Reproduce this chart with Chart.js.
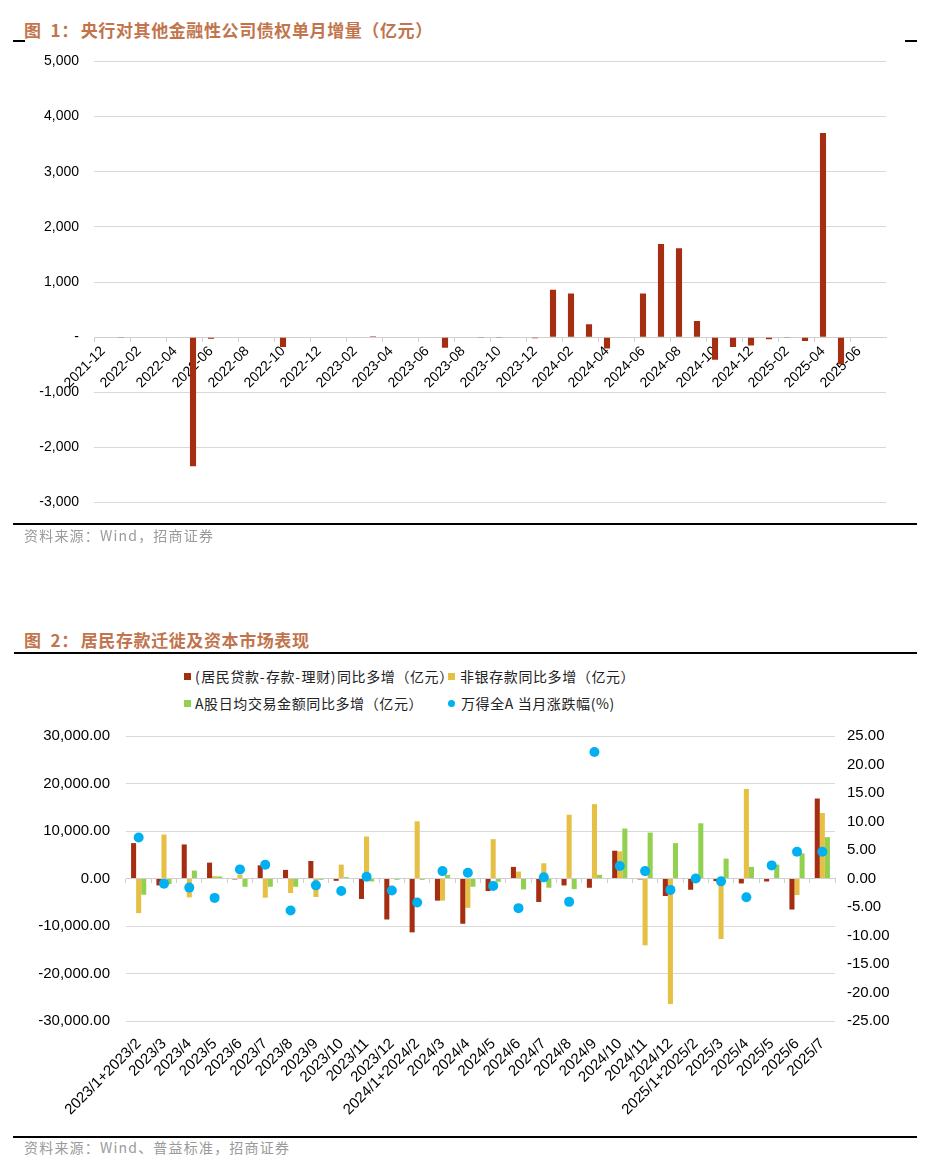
<!DOCTYPE html>
<html><head><meta charset="utf-8">
<script src="https://cdn.jsdelivr.net/npm/chart.js@4.4.1/dist/chart.umd.min.js"></script>
<style>
html,body{margin:0;padding:0;background:#fff;}
body{width:927px;height:1168px;position:relative;overflow:hidden;font-family:"Noto Sans CJK SC",sans-serif;}
.title{position:absolute;left:24px;font-size:17px;font-weight:bold;color:#c2744d;letter-spacing:0.6px;line-height:20px;white-space:nowrap;}
.rule{position:absolute;background:#000;height:1.5px;}
.src{position:absolute;left:24px;font-size:14px;color:#9a9a9a;letter-spacing:1.2px;line-height:18px;white-space:nowrap;}
.leg{position:absolute;font-size:14px;color:#222;letter-spacing:0.6px;line-height:18px;white-space:nowrap;}
.leg .a{letter-spacing:1.5px;}
.sw{position:absolute;width:7px;height:7px;}
canvas{position:absolute;left:0;}
</style></head><body>
<div class="title" style="top:20px">图&nbsp;&nbsp;1：<span style="margin-left:2px">央行对其他金融性公司债权单月增量（亿元）</span></div>
<div class="rule" style="left:13px;width:12px;top:40px"></div>
<div class="rule" style="left:905px;width:12px;top:40px"></div>
<canvas id="c1" width="927" height="488" style="top:38px"></canvas>
<div class="rule" style="left:13px;width:904px;top:523px"></div>
<div class="src" style="top:526px">资料来源：Wind，招商证券</div>

<div class="title" style="top:630px">图&nbsp;&nbsp;2：<span style="margin-left:2px">居民存款迁徙及资本市场表现</span></div>
<div class="rule" style="left:14px;width:903px;top:652px"></div>
<div class="sw" style="left:184px;top:673px;background:#a52e12"></div>
<div class="leg" style="left:195px;top:667px"><span class="a">(</span>居民贷款<span class="a">-</span>存款<span class="a">-</span>理财<span class="a">)</span>同比多增（亿元）</div>
<div class="sw" style="left:448px;top:673px;background:#e6bf45"></div>
<div class="leg" style="left:460px;top:667px">非银存款同比多增（亿元）</div>
<div class="sw" style="left:184px;top:700px;background:#92d050"></div>
<div class="leg" style="left:195px;top:694px">A股日均交易金额同比多增（亿元）</div>
<div class="sw" style="left:448px;top:700px;background:#00b0f0;border-radius:50%"></div>
<div class="leg" style="left:461px;top:694px">万得全A 当月涨跌幅(%)</div>
<canvas id="c2" width="927" height="425" style="top:711px"></canvas>
<div class="rule" style="left:13px;width:904px;top:1136px"></div>
<div class="src" style="top:1138px">资料来源：Wind、普益标准，招商证券</div>

<script>
// ---- Chart 1 data ----
const months = ['2021-12','2022-01','2022-02','2022-03','2022-04','2022-05','2022-06','2022-07','2022-08','2022-09','2022-10','2022-11',
 '2022-12','2023-01','2023-02','2023-03','2023-04','2023-05','2023-06','2023-07','2023-08','2023-09','2023-10','2023-11',
 '2023-12','2024-01','2024-02','2024-03','2024-04','2024-05','2024-06','2024-07','2024-08','2024-09','2024-10','2024-11',
 '2024-12','2025-01','2025-02','2025-03','2025-04','2025-05','2025-06','2025-07'];
const claimsOnOFC = [0,-8,0,0,0,-2340,-30,0,0,0,-180,-10,
 0,0,0,15,0,0,0,-190,0,-15,-5,0,
 -20,860,790,235,-205,-10,790,1690,1610,295,-410,-180,
 -150,-40,-5,-70,3700,-490,0,0];
const y1Ticks = {min:-3000, max:5000, step:1000};

// ---- Chart 2 data ----
const periods = ['2023/1+2023/2','2023/3','2023/4','2023/5','2023/6','2023/7','2023/8','2023/9','2023/10','2023/11','2023/12',
 '2024/1+2024/2','2024/3','2024/4','2024/5','2024/6','2024/7','2024/8','2024/9','2024/10','2024/11','2024/12',
 '2025/1+2025/2','2025/3','2025/4','2025/5','2025/6','2025/7'];
const householdNet = [7450,-1460,7170,3340,-200,2780,1810,3690,-490,-4310,-8630,
 -11340,-4660,-9530,-2640,2440,-4940,-1460,-1950,5850,-200,-3690,
 -2370,-560,-1040,-630,-6540,16840];
const nonbankDeposit = [-7300,9260,-3970,490,800,-4040,-3060,-3900,2920,8840,100,
 12040,-4660,-6180,8280,1460,3200,13430,15660,5710,-14060,-26440,
 300,-12740,18860,100,-3480,13780];
const turnoverYoY = [-3410,-1180,1670,420,-1740,-1740,-1740,-280,280,-630,-280,
 -280,770,-1740,-700,-2300,-1950,-2230,770,10510,9670,7450,
 11620,4180,2440,2920,5290,8700];
const windAReturn = [7.2,-0.9,-1.6,-3.4,1.6,2.4,-5.6,-1.2,-2.2,0.3,-2.1,
 -4.2,1.3,1.0,-1.3,-5.2,0.2,-4.1,22.2,2.2,1.3,-2.0,
 0.0,-0.5,-3.3,2.3,4.7,4.7];
const leftTicks = {min:-30000, max:30000, step:10000};
const rightTicks = {min:-25, max:25, step:5};

const FONT = '"Liberation Sans", Arial, sans-serif';
const RED = '#a52e12', YEL = '#e6bf45', GRN = '#92d050', BLU = '#00b0f0';
const GRID = '#d9d9d9';

new Chart(document.getElementById('c1'), {
  type: 'bar',
  data: { labels: months, datasets: [{ data: claimsOnOFC, backgroundColor: RED, categoryPercentage: 1, barPercentage: 0.34 }] },
  options: {
    responsive: false, animation: false, devicePixelRatio: 1,
    layout: { padding: { left: 0, right: 41, top: 20, bottom: 0 } },
    plugins: { legend: { display: false }, tooltip: { enabled: false } },
    scales: {
      x: {
        position: { y: 0 }, offset: true,
        grid: { offset: true, drawOnChartArea: false, drawTicks: true, tickLength: 4,
                color: ctx => (ctx.index % 2 === 0 ? '#cfcfcf' : 'rgba(0,0,0,0)') },
        border: { display: true, color: '#cfcfcf' },
        ticks: { autoSkip: false, minRotation: 45, maxRotation: 45, padding: 2, color: '#000',
                 font: { family: FONT, size: 14 },
                 callback: (v, i) => (i % 2 === 0 ? months[i] : '') },
        afterFit: s => { s.height = 18; }
      },
      y: {
        min: y1Ticks.min, max: y1Ticks.max,
        ticks: { stepSize: y1Ticks.step, padding: 15, color: '#000', font: { family: FONT, size: 14 },
                 callback: v => (v === 0 ? '-' : v.toLocaleString('en-US')) },
        grid: { color: GRID, drawTicks: false },
        border: { display: false },
        afterFit: s => { s.width = 94; }
      }
    }
  }
});

new Chart(document.getElementById('c2'), {
  data: {
    labels: periods,
    datasets: [
      { type: 'line', label: '万得全A 当月涨跌幅(%)', data: windAReturn, yAxisID: 'y1', xAxisID: 'x', showLine: false,
        pointRadius: 5, pointBackgroundColor: BLU, pointBorderWidth: 0, order: 0 },
      { type: 'bar', label: '(居民贷款-存款-理财)同比多增（亿元）', data: householdNet, backgroundColor: RED, yAxisID: 'y', xAxisID: 'x', order: 1 },
      { type: 'bar', label: '非银存款同比多增（亿元）', data: nonbankDeposit, backgroundColor: YEL, yAxisID: 'y', xAxisID: 'x', order: 2 },
      { type: 'bar', label: 'A股日均交易金额同比多增（亿元）', data: turnoverYoY, backgroundColor: GRN, yAxisID: 'y', xAxisID: 'x', order: 3 }
    ]
  },
  options: {
    responsive: false, animation: false, devicePixelRatio: 1,
    datasets: { bar: { categoryPercentage: 0.6, barPercentage: 1 } },
    layout: { padding: { left: 0, right: 0, top: 20, bottom: 15 } },
    plugins: { legend: { display: false }, tooltip: { enabled: false } },
    scales: {
      x: {
        position: 'bottom', offset: true,
        grid: { display: false }, border: { display: false },
        ticks: { autoSkip: false, minRotation: 45, maxRotation: 45, padding: 6, color: '#000',
                 font: { family: FONT, size: 15 } },
        afterFit: s => { s.height = 100; }
      },
      x2: {
        type: 'category', position: { y: 0 }, offset: true,
        grid: { offset: true, drawOnChartArea: false, drawTicks: true, tickLength: 4, color: '#cfcfcf' },
        border: { display: true, color: '#cfcfcf' },
        ticks: { display: false },
        afterFit: s => { s.height = 0; }
      },
      y: {
        position: 'left', min: leftTicks.min, max: leftTicks.max,
        ticks: { stepSize: leftTicks.step, padding: 16, color: '#000', font: { family: FONT, size: 15 },
                 callback: v => v.toLocaleString('en-US', { minimumFractionDigits: 2, maximumFractionDigits: 2 }) },
        grid: { color: GRID, drawTicks: false },
        border: { display: false },
        afterFit: s => { s.width = 126; }
      },
      y1: {
        position: 'right', min: rightTicks.min, max: rightTicks.max,
        ticks: { stepSize: rightTicks.step, padding: 12, color: '#000', font: { family: FONT, size: 15 },
                 callback: v => v.toFixed(2) },
        grid: { drawOnChartArea: false, drawTicks: false },
        border: { display: false },
        afterFit: s => { s.width = 92; }
      }
    }
  }
});
</script>
</body></html>
